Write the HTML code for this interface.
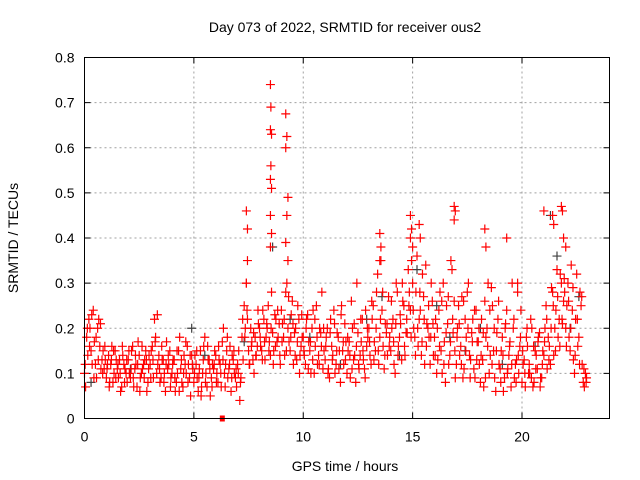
<!DOCTYPE html>
<html><head><meta charset="utf-8"><style>
body{margin:0;background:#fff;}
svg{display:block;font-family:"Liberation Sans",sans-serif;}
</style></head><body>
<svg id="chart" width="640" height="480">
<text x="345" y="32" text-anchor="middle" font-size="14">Day 073 of 2022, SRMTID for receiver ous2</text>
<text transform="translate(18,238) rotate(-90)" text-anchor="middle" font-size="14">SRMTID / TECUs</text>
<text x="345" y="471" text-anchor="middle" font-size="14">GPS time / hours</text>
<g id="grid"></g>
<g id="axes"></g>
<g id="marks"></g>
<rect x="84.5" y="57.5" width="525" height="361" fill="none" stroke="#000"/>
</svg>
<script>
const yTicks=[0,0.1,0.2,0.3,0.4,0.5,0.6,0.7,0.8];
const yTickLabels=["0","0.1","0.2","0.3","0.4","0.5","0.6","0.7","0.8"];
const xTicks=[0,5,10,15,20];
const xTickLabels=["0","5","10","15","20"];
// values in 0.01 TECU, sampled every 0.1 h
const seriesA=[10,18,22,15,24,12,20,16,13,11,9,14,12,8,15,11,13,7,12,10,13,9,16,11,7,14,10,12,15,8,12,16,22,10,14,9,13,6,11,15,10,13,8,15,11,7,12,16,9,14,8,12,6,15,10,18,7,13,9,11,14,8,12,17,10,15,11,6,13,9,12,4,18,25,30,15,20,13,18,16,20,15,22,18,25,14,19,23,17,21,24,18,28,20,15,26,19,13,22,16,18,12,23,15,20,10,25,14,19,11,13,20,9,16,24,12,18,8,15,21,10,17,26,13,8,19,14,22,11,16,20,12,25,15,32,18,24,11,19,27,15,22,10,28,18,13,25,19,33,24,30,18,36,22,14,27,34,20,12,26,18,10,24,15,30,8,21,14,33,26,12,25,16,9,22,28,14,19,11,24,17,8,13,26,20,10,29,15,6,22,11,18,9,24,14,7,20,12,28,16,8,13,18,10,22,7,15,11,19,9,14,25,18,12,28,20,33,22,30,26,20,30,15,24,10,32,18,25,8,10];
const seriesB=[7,14,20,12,17,9,22,11,15,13,12,8,16,10,13,9,6,14,11,8,10,15,7,12,17,9,11,13,6,14,15,9,18,12,8,13,10,17,12,9,13,6,10,18,8,14,10,12,5,11,14,9,11,7,16,10,13,5,12,15,10,13,7,20,12,9,16,14,10,7,15,9,13,20,22,12,17,10,14,21,16,24,13,20,17,28,15,22,18,12,21,14,30,17,23,12,20,25,14,18,14,22,17,10,24,16,12,20,28,15,18,11,22,14,10,19,15,25,12,17,15,9,20,14,30,11,17,13,24,18,14,22,17,28,12,35,16,21,14,18,20,12,30,16,21,26,14,19,28,35,20,28,16,24,32,12,21,18,30,14,22,13,28,10,17,25,12,35,19,9,20,14,27,11,18,30,13,22,9,17,12,22,7,18,30,14,25,9,19,12,15,6,21,11,17,30,9,13,10,24,12,7,16,10,20,8,14,18,9,15,20,11,16,29,14,24,18,32,21,28,25,18,34,13,22,16,28,12,7,9];
const seriesC=[12,20,16,23,9,18,13,21,10,16,11,7,13,15,9,12,10,16,8,13,15,11,9,14,12,6,16,9,13,11,9,13,17,23,11,16,8,12,14,7,12,9,15,6,13,10,17,8,14,12,10,15,9,5,13,8,16,11,7,12,8,16,10,13,7,18,12,9,15,11,10,8,22,18,24,12,16,19,14,24,18,13,17,21,15,20,12,16,24,14,17,22,15,27,18,21,14,17,10,23,15,20,11,17,13,22,18,12,16,20,16,10,19,13,21,15,11,23,17,13,18,14,11,21,16,12,22,15,9,20,17,26,13,20,15,22,28,14,21,16,26,17,21,14,23,30,16,22,25,18,24,14,20,28,17,22,16,25,18,21,14,20,16,26,12,19,27,17,22,15,18,21,12,26,15,20,9,17,24,13,20,14,19,9,16,24,12,20,15,26,8,14,20,10,16,12,22,8,14,18,15,10,20,12,9,16,11,17,7,12,17,22,13,20,25,15,27,16,22,31,16,26,20,29,14,22,12,27,11,8];
const spikeHours=[7.4,7.45,7.4,7.45,8.5,8.52,8.5,8.55,8.52,8.5,8.55,8.5,8.55,8.5,9.2,9.25,9.2,9.3,9.25,9.2,9.3,13.5,13.55,13.5,14.9,14.95,14.9,15.0,15.3,15.35,16.9,16.95,16.9,18.3,18.35,19.3,19.8,21.0,21.4,21.45,21.8,21.85,21.9,22.0];
const spikeValues=[0.46,0.42,0.30,0.35,0.74,0.69,0.64,0.63,0.56,0.53,0.51,0.45,0.41,0.38,0.675,0.625,0.60,0.49,0.45,0.39,0.35,0.41,0.38,0.35,0.45,0.42,0.40,0.38,0.43,0.40,0.47,0.46,0.44,0.42,0.38,0.40,0.30,0.46,0.45,0.43,0.47,0.46,0.40,0.38];
const grayHours=[0.3,2.1,4.9,5.5,7.3,8.6,9.4,10.3,11.7,12.9,13.6,14.4,15.2,16.1,16.7,17.4,18.1,19.1,20.6,21.3,21.6,22.2,22.6];
const grayValues=[0.08,0.11,0.20,0.14,0.17,0.38,0.22,0.18,0.12,0.22,0.27,0.14,0.33,0.25,0.18,0.15,0.2,0.12,0.16,0.45,0.36,0.2,0.27];

const X0=84.5,X1=609.5,Y0=418.5,Y1=57.5;
const xs=h=>X0+h/24*(X1-X0);
const ys=v=>Y0-v/0.8*(Y0-Y1);
const NS="http://www.w3.org/2000/svg";
function mk(tag,attrs,parent){const e=document.createElementNS(NS,tag);for(const k in attrs)e.setAttribute(k,attrs[k]);parent.appendChild(e);return e;}
const grid=document.getElementById('grid'),axes=document.getElementById('axes'),marks=document.getElementById('marks');
yTicks.forEach((v,i)=>{const y=ys(v);
 if(i>0&&i<yTicks.length-1){const g=mk('line',{x1:X0,x2:X1,y1:y,y2:y,stroke:'#a0a0a0','stroke-dasharray':'2,3'},grid);
 
 }
 mk('line',{x1:X0,x2:X0+6,y1:y,y2:y,stroke:'#000'},axes);
 mk('line',{x1:X1,x2:X1-6,y1:y,y2:y,stroke:'#000'},axes);
 const t=mk('text',{x:X0-10,y:y+5,'text-anchor':'end','font-size':14},axes);t.textContent=yTickLabels[i];
 
 
});
xTicks.forEach((h,i)=>{const x=xs(h);
 if(i>0){const g=mk('line',{x1:x,x2:x,y1:Y0,y2:Y1,stroke:'#a0a0a0','stroke-dasharray':'2,3'},grid);
 
 }
 mk('line',{x1:x,x2:x,y1:Y0,y2:Y0-6,stroke:'#000'},axes);
 mk('line',{x1:x,x2:x,y1:Y1,y2:Y1+6,stroke:'#000'},axes);
 const t=mk('text',{x:x,y:Y0+23,'text-anchor':'middle','font-size':14},axes);t.textContent=xTickLabels[i];
 
 
});
function plus(h,v,color,name){const x=xs(h),y=ys(v);
 const p=mk('path',{d:`M${x-4.5},${y}H${x+4.5}M${x},${y-4.5}V${y+4.5}`,stroke:color,'stroke-width':1.2,fill:'none'},marks);
 
 }
grayHours.forEach((h,i)=>plus(h,grayValues[i],'#404040','gray-point'));
seriesA.forEach((v,i)=>plus(i*0.1,v/100,'#ff0000','srmtid-point'));
seriesB.forEach((v,i)=>plus(i*0.1+0.05,v/100,'#ff0000','srmtid-point'));
seriesC.forEach((v,i)=>plus(i*0.1+0.03,v/100,'#ff0000','srmtid-point'));
spikeHours.forEach((h,i)=>plus(h,spikeValues[i],'#ff0000','srmtid-spike-point'));
const sq=mk('rect',{x:xs(6.3)-2.5,y:ys(0)-3,width:5,height:6,fill:'#ff0000'},marks);


</script>
</body></html>
